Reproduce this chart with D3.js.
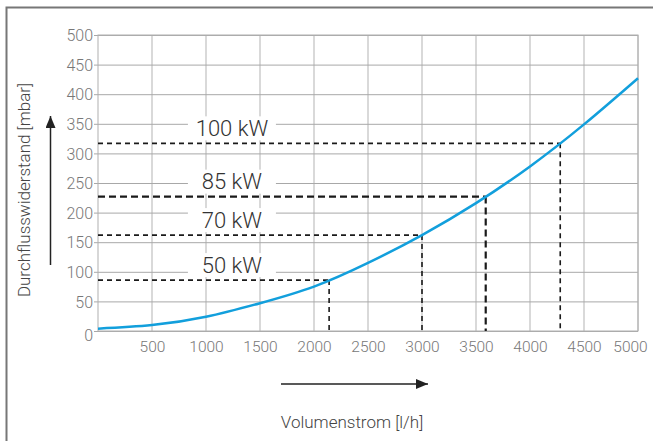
<!DOCTYPE html>
<html>
<head>
<meta charset="utf-8">
<script src="https://cdn.jsdelivr.net/npm/d3@7"></script>
<style>
  body { margin: 0; background: #fff; }
  text { font-family: Roboto, "Liberation Sans", sans-serif; font-weight: 300; }
</style>
</head>
<body>
<svg id="chart" width="653" height="441"></svg>
<script>
// curve
const flowValues = [0, 500, 1000, 1500, 2000, 2500, 3000, 3500, 4000, 4500, 5000];
const pressureValues = [4, 10, 24, 47, 75, 115, 162, 216, 278, 349, 427];

// operating points
const powerLabels = ["50 kW", "70 kW", "85 kW", "100 kW"];
const pointFlows = [2140, 3000, 3590, 4280];
const pointPressures = [86, 162, 227, 317];

const xTicks = [500, 1000, 1500, 2000, 2500, 3000, 3500, 4000, 4500, 5000];
const yTicks = [0, 50, 100, 150, 200, 250, 300, 350, 400, 450, 500];

const svg = d3.select("#chart");
const width = +svg.attr("width");
const height = +svg.attr("height");
const margin = {top: 35, right: 15, bottom: 110, left: 98};
const innerWidth = width - margin.left - margin.right;
const innerHeight = height - margin.top - margin.bottom;

// outer frame (only top and left visible)
svg.append("path")
  .attr("d", `M6.5,${height} V7.5 H${width}`)
  .attr("fill", "none").attr("stroke", "#777").attr("stroke-width", 2);

const xScale = d3.scaleLinear().domain([0, 5000]).range([0, innerWidth]);
const yScale = d3.scaleLinear().domain([0, 500]).range([innerHeight, 0]);

const g = svg.append("g")
  .attr("transform", `translate(${margin.left},${margin.top})`);

// vertical grid
g.append("g").selectAll("line")
  .data(xTicks)
  .enter().append("line")
    .attr("x1", d => xScale(d)).attr("x2", d => xScale(d))
    .attr("y1", 0).attr("y2", innerHeight)
    .attr("stroke", "#cdcdcd").attr("stroke-width", 1.5);

// horizontal grid + y axis
const yAxis = g.append("g")
  .call(d3.axisLeft(yScale).tickValues(yTicks).tickFormat(d3.format("d"))
    .tickSize(-innerWidth).tickPadding(2));
yAxis.select(".domain").remove();
yAxis.selectAll(".tick line")
  .attr("x1", -4)
  .attr("stroke", "#a8a8a8").attr("stroke-width", 1);
yAxis.selectAll(".tick text")
  .attr("x", -5)
  .attr("fill", "#777").attr("font-size", 16)
  .attr("dy", d => d === 0 ? "0.62em" : "0.35em");

// plot border
g.append("rect")
  .attr("width", innerWidth).attr("height", innerHeight)
  .attr("fill", "none").attr("stroke", "#b0b0b0").attr("stroke-width", 1);

// x axis labels
const xAxis = g.append("g")
  .attr("transform", `translate(0,${innerHeight})`)
  .call(d3.axisBottom(xScale).tickValues(xTicks).tickFormat(d3.format("d"))
    .tickSize(0).tickPadding(10));
xAxis.select(".domain").remove();
xAxis.selectAll(".tick text")
  .attr("fill", "#777").attr("font-size", 15.5)
  .attr("dx", d => d === 5000 ? -8 : 0);

const points = powerLabels.map((label, i) => ({
  label: label, flow: pointFlows[i], pressure: pointPressures[i]
}));

// label boxes hiding the grid
const labelFlow = 1240;
g.append("g").selectAll("rect")
  .data(points)
  .enter().append("rect")
    .attr("x", xScale(labelFlow) - 44)
    .attr("y", d => yScale(d.pressure) - 27)
    .attr("width", 88).attr("height", 24)
    .attr("fill", "#fff");

// dashed guides
const dashWidth = d => d.label === "85 kW" ? 2.2 : 1.6;
const dashArray = d => d.label === "85 kW" ? "7,4" : "5,4";
const guides = g.append("g");
guides.selectAll(".hdash")
  .data(points)
  .enter().append("line")
    .attr("x1", 0).attr("x2", d => xScale(d.flow))
    .attr("y1", d => yScale(d.pressure)).attr("y2", d => yScale(d.pressure))
    .attr("stroke", "#1a1a1a")
    .attr("stroke-width", dashWidth)
    .attr("stroke-dasharray", dashArray);
guides.selectAll(".vdash")
  .data(points)
  .enter().append("line")
    .attr("x1", d => xScale(d.flow)).attr("x2", d => xScale(d.flow))
    .attr("y1", d => yScale(d.pressure)).attr("y2", innerHeight)
    .attr("stroke", "#1a1a1a")
    .attr("stroke-width", dashWidth)
    .attr("stroke-dasharray", dashArray);

// resistance curve
const line = d3.line()
  .x(d => xScale(d[0]))
  .y(d => yScale(d[1]))
  .curve(d3.curveNatural);
g.append("path")
  .datum(flowValues.map((f, i) => [f, pressureValues[i]]))
  .attr("d", line)
  .attr("fill", "none")
  .attr("stroke", "#129fdc")
  .attr("stroke-width", 2.5);

// kW labels
g.append("g").selectAll("text")
  .data(points)
  .enter().append("text")
    .attr("x", xScale(labelFlow))
    .attr("y", d => yScale(d.pressure) - 15)
    .attr("dy", "0.35em")
    .attr("text-anchor", "middle")
    .attr("font-size", 22)
    .attr("fill", "#333")
    .text(d => d.label);

// axis titles with arrows
svg.append("defs").append("marker")
  .attr("id", "arrow")
  .attr("viewBox", "0 0 12 10")
  .attr("refX", 12).attr("refY", 5)
  .attr("markerWidth", 12).attr("markerHeight", 10)
  .attr("markerUnits", "userSpaceOnUse")
  .attr("orient", "auto")
  .append("path")
    .attr("d", "M0,0 L12,5 L0,10 Z")
    .attr("fill", "#222");

svg.append("line")
  .attr("x1", 50.5).attr("x2", 50.5)
  .attr("y1", 265).attr("y2", 116)
  .attr("stroke", "#222").attr("stroke-width", 1.5)
  .attr("marker-end", "url(#arrow)");

svg.append("line")
  .attr("x1", 281).attr("x2", 428)
  .attr("y1", 384).attr("y2", 384)
  .attr("stroke", "#222").attr("stroke-width", 1.5)
  .attr("marker-end", "url(#arrow)");

svg.append("text")
  .attr("transform", "translate(30,190) rotate(-90)")
  .attr("text-anchor", "middle")
  .attr("font-size", 17)
  .attr("fill", "#444")
  .text("Durchflusswiderstand [mbar]");

svg.append("text")
  .attr("x", 352).attr("y", 428)
  .attr("text-anchor", "middle")
  .attr("font-size", 17)
  .attr("fill", "#444")
  .text("Volumenstrom [l/h]");
</script>
</body>
</html>
